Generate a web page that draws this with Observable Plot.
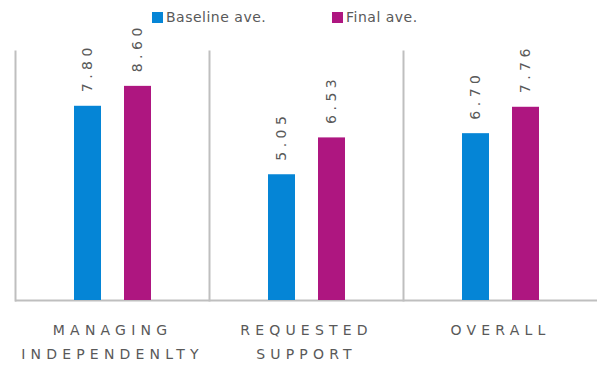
<!DOCTYPE html>
<html>
<head>
<meta charset="utf-8">
<script src="https://cdn.jsdelivr.net/npm/d3@7"></script>
<script src="https://cdn.jsdelivr.net/npm/@observablehq/plot@0.6"></script>
<style>
  html, body { margin: 0; padding: 0; background: #fff; }
  #wrap { width: 598px; position: relative; font-family: "DejaVu Sans", Verdana, sans-serif; color: #595959; }
  #legend { position: absolute; left: 0; top: 0; width: 598px; height: 34px; font-size: 14px; letter-spacing: 0.5px; z-index: 1; }
  #legend .item { position: absolute; top: 9px; display: flex; align-items: center; }
  #legend .sw { width: 11px; height: 11px; margin-right: 3px; }
  svg [aria-label="fx-axis tick label"] text { letter-spacing: 5.2px; }
  svg [aria-label="text"] text { letter-spacing: 4.5px; }
</style>
</head>
<body>
<div id="wrap">
  <div id="legend"></div>
  <div id="chart"></div>
</div>
<script>
const categories = ["MANAGING INDEPENDENLTY", "REQUESTED SUPPORT", "OVERALL"];
const categoryLines = ["MANAGING\nINDEPENDENLTY", "REQUESTED\nSUPPORT", "OVERALL"];
const series = ["Baseline ave.", "Final ave."];
const baselineValues = [7.80, 5.05, 6.70];
const finalValues = [8.60, 6.53, 7.76];
const colors = ["#0585d6", "#ae1680"];
const legendLeft = [152, 332];

const data = [];
categories.forEach((c, i) => {
  data.push({category: c, series: series[0], value: baselineValues[i]});
  data.push({category: c, series: series[1], value: finalValues[i]});
});

const legend = document.getElementById("legend");
series.forEach((s, i) => {
  const item = document.createElement("div");
  item.className = "item";
  item.style.left = legendLeft[i] + "px";
  item.innerHTML = `<span class="sw" style="background:${colors[i]}"></span><span>${s}</span>`;
  legend.appendChild(item);
});

const chart = Plot.plot({
  width: 598,
  height: 370,
  marginLeft: 15,
  marginRight: 1,
  marginTop: 51,
  marginBottom: 70,
  style: {fontFamily: "DejaVu Sans, Verdana, sans-serif", color: "#595959", fontSize: "12px"},
  fx: {domain: categories, padding: 0, label: null},
  x: {domain: series, paddingInner: 0.46, paddingOuter: 1.17, axis: null},
  y: {domain: [0, 10], axis: null},
  color: {domain: series, range: colors},
  marks: [
    Plot.frame({anchor: "left", stroke: "#bfbfbf", strokeWidth: 2}),
    Plot.ruleY([0], {stroke: "#bfbfbf", strokeWidth: 2}),
    Plot.barY(data, {fx: "category", x: "series", y: "value", fill: "series"}),
    Plot.text(data, {fx: "category", x: "series", y: "value", text: d => d.value.toFixed(2),
      rotate: -90, textAnchor: "start", dy: -14, fill: "#595959", fontSize: 14}),
    Plot.axisFx({anchor: "bottom", tickSize: 0, tickPadding: 18, fontSize: 14, label: null, lineHeight: 1.71,
      fill: "#595959", tickFormat: d => categoryLines[categories.indexOf(d)]})
  ]
});
document.getElementById("chart").appendChild(chart);
</script>
</body>
</html>
